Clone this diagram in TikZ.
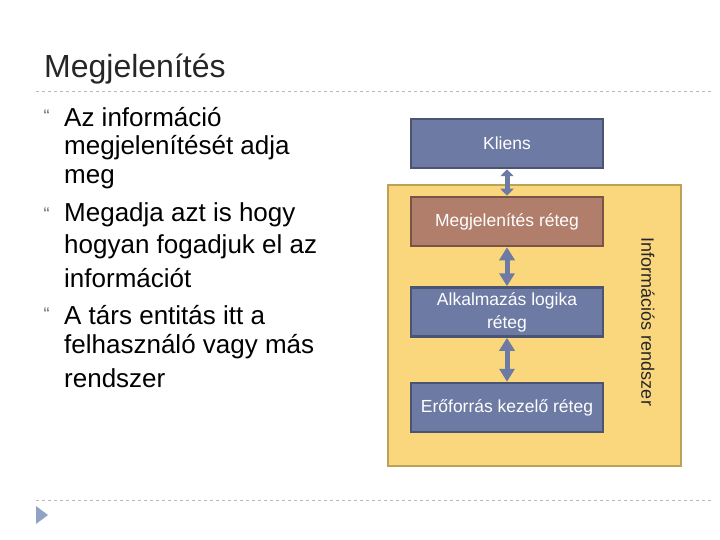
\documentclass[tikz,border=0pt]{standalone}
\usepackage{fontspec}
\setmainfont{Liberation Sans}
\usetikzlibrary{arrows.meta}
\definecolor{boxblue}{HTML}{6D7AA3}
\definecolor{boxbord}{HTML}{4B5472}
\definecolor{boxbrown}{HTML}{B07E6B}
\definecolor{brownbord}{HTML}{7A5445}
\definecolor{ysys}{HTML}{FAD77D}
\definecolor{ysysb}{HTML}{BCA257}
\definecolor{dashg}{HTML}{B8B8B8}
\definecolor{tri}{HTML}{8FA3C4}
\tikzset{
  layer/.style={draw=boxbord,line width=2.5pt,fill=boxblue,minimum width=192pt,minimum height=49pt,text=white,font=\fontsize{17.5}{20}\selectfont,align=center,inner sep=0pt},
  conn/.style={draw=boxblue,line width=5pt,{Triangle[width=15pt,length=13pt]}-{Triangle[width=15pt,length=13pt]}},
  bl/.style={anchor=west,font=\fontsize{26}{28}\selectfont,text=black,inner sep=0pt},
  bul/.style={anchor=west,font=\fontsize{14}{14}\selectfont\bfseries,text=gray,inner sep=0pt}
}
\begin{document}
\begin{tikzpicture}[x=1pt,y=-1pt]
\useasboundingbox (0,0) rectangle (720,540);
\node[anchor=base west,inner sep=0pt,font=\fontsize{32}{36}\selectfont,text=black!85] (title) at (44,78) {Megjelenítés};
\draw[dashg,dashed,line width=0.8pt] (36,91) coordinate (d1) -- (712,91) coordinate (d2);
\draw[dashg,dashed,line width=0.8pt] (36,500) coordinate (d3) -- (712,500) coordinate (d4);
\fill[tri] (36,506) -- (48,515) -- (36,524) -- cycle;
\foreach \y/\t [count=\i] in {117/Az információ,148/megjelenítését adja,179/meg,215/Megadja azt is hogy,247/hogyan fogadjuk el az,278/információt,315/A társ entitás itt a,347/felhasználó vagy más,378/rendszer}{
  \node[bl] (l\i) at (64,\y) {\t};
}
\foreach \y [count=\i] in {117,215,315}{\node[bul] (b\i) at (43,\y-2) {\textquotedblleft};}
\node[draw=ysysb,line width=2.5pt,fill=ysys,minimum width=293pt,minimum height=281pt,inner sep=0pt] (sys) at (534.5,325.5) {};
\node[rotate=-90,font=\fontsize{18}{20}\selectfont,text=black!85] (sysl) at (648,322) {Információs rendszer};
\node[layer] (k) at (507,143.5) {Kliens};
\node[layer,fill=boxbrown,draw=brownbord] (m) at (507,221.5) {Megjelenítés réteg};
\node[layer] (a) at (507,312) {Alkalmazás logika\\[3pt]réteg};
\node[layer] (e) at (507,407.5) {Erőforrás kezelő réteg};
\draw[boxblue,line width=5pt,{Triangle[width=13pt,length=7pt]}-{Triangle[width=13pt,length=7pt]}] (k.south) -- (m.north);
\draw[conn] (m.south) -- (a.north);
\draw[conn] (a.south) -- (e.north);
\end{tikzpicture}
\end{document}
